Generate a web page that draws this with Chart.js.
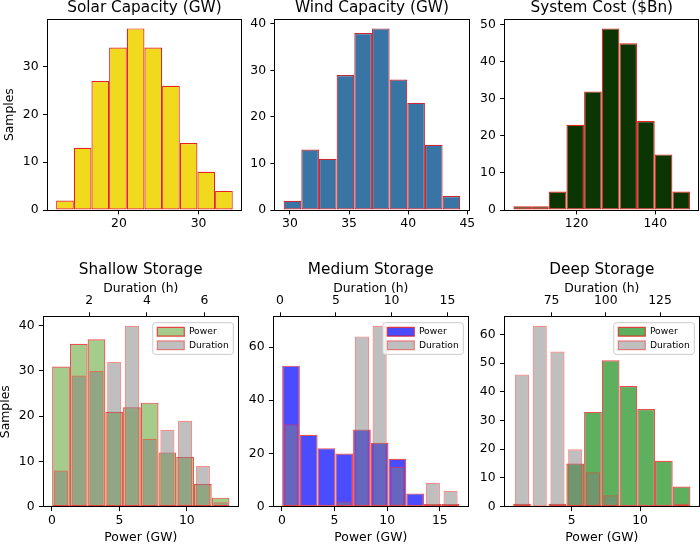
<!DOCTYPE html>
<html>
<head>
<meta charset="utf-8">
<script src="https://cdn.jsdelivr.net/npm/chart.js@4.4.1/dist/chart.umd.min.js"></script>
<style>
  html, body { margin: 0; padding: 0; background: #fff; }
  #fig { position: relative; width: 700px; height: 546px; }
  #fig canvas { position: absolute; left: 0; top: 0; }
</style>
</head>
<body>
<div id="fig">
  <canvas id="solar" width="700" height="546"></canvas>
  <canvas id="wind" width="700" height="546"></canvas>
  <canvas id="cost" width="700" height="546"></canvas>
  <canvas id="shallow" width="700" height="546"></canvas>
  <canvas id="medium" width="700" height="546"></canvas>
  <canvas id="deep" width="700" height="546"></canvas>
</div>
<script>
// histogram data: 10 bins each, [first edge, last edge] + counts
const solarRange = [12.1, 34.3];
const solarCounts = [2, 13, 27, 34, 38, 34, 26, 14, 8, 4];
const windRange = [29.47, 44.4];
const windCounts = [2, 13, 11, 29, 38, 39, 28, 23, 14, 3];
const costRange = [103.95, 148.85];
const costCounts = [1, 1, 5, 23, 32, 49, 45, 24, 15, 5];

const shallowPowerRange = [0.02, 13.16];
const shallowPowerCounts = [31, 36, 37, 21, 22, 23, 12, 11, 5, 2];
const shallowDurRange = [0.71, 6.87];
const shallowDurCounts = [8, 29, 30, 32, 40, 15, 17, 19, 9, 1];

const mediumPowerRange = [0.03, 16.86];
const mediumPowerCounts = [53, 27, 22, 20, 29, 24, 18, 5, 1, 1];
const mediumDurRange = [0.19, 16.08];
const mediumDurCounts = [31, 0, 0, 2, 64, 68, 15, 0, 9, 6];

const deepPowerRange = [0.72, 13.68];
const deepPowerCounts = [1, 0, 1, 15, 33, 51, 42, 34, 16, 7];
const deepDurRange = [57.3, 139.0];
const deepDurCounts = [46, 63, 54, 20, 12, 4, 0, 0, 0, 1];

// tick labels
const solarXTicks = [20, 30];
const solarYTicks = [0, 10, 20, 30];
const windXTicks = [30, 35, 40, 45];
const windYTicks = [0, 10, 20, 30, 40];
const costXTicks = [120, 140];
const costYTicks = [0, 10, 20, 30, 40, 50];
const shallowXTicks = [0, 5, 10];
const shallowTopTicks = [2, 4, 6];
const shallowYTicks = [0, 10, 20, 30, 40];
const mediumXTicks = [0, 5, 10, 15];
const mediumTopTicks = [0, 5, 10, 15];
const mediumYTicks = [0, 20, 40, 60];
const deepXTicks = [5, 10];
const deepTopTicks = [75, 100, 125];
const deepYTicks = [0, 10, 20, 30, 40, 50, 60];

const W = 700, H = 546;
const TICK_FS = 12.4;
const TITLE_FS = 15.3;
const LEG_FS = 9.2, LEG_BOX_W = 27, LEG_BOX_H = 8.7, LEG_PAD = 4.3;

Chart.defaults.font.family = '"DejaVu Sans", sans-serif';
Chart.defaults.font.size = TICK_FS;
Chart.defaults.color = '#000';

// histogram -> bar points at bin centres
function bins(range, counts) {
  const w = (range[1] - range[0]) / counts.length;
  return counts.map((c, i) => ({ x: range[0] + (i + 0.5) * w, y: c }));
}
// matplotlib style 5% margins
function withMargin(range) {
  const m = (range[1] - range[0]) * 0.05;
  return [range[0] - m, range[1] + m];
}

// legend frame + move the legend to the upper right corner of the plot area
const legendBox = {
  id: 'legendBox',
  afterInit(chart) {
    const lg = chart.legend;
    if (lg) lg._layers = () => [{ z: 2, draw: (ca) => lg.draw(ca) }];
  },
  afterLayout(chart) {
    const lg = chart.legend;
    if (!lg || !lg.options.display) return;
    const a = chart.chartArea, ctx = chart.ctx;
    ctx.save();
    ctx.font = LEG_FS + 'px "DejaVu Sans"';
    const tw = Math.max(...chart.data.datasets.map(d => ctx.measureText(d.label).width));
    ctx.restore();
    const inset = 4.5;
    const w = inset * 2 + LEG_BOX_W + LEG_FS / 2 + tw;
    const h = inset * 2 + LEG_FS * 2 + LEG_PAD;
    const fx = a.right - 5 - w, fy = a.top + 6;
    chart.$frame = { x: fx, y: fy, w: w, h: h };
    lg.left = fx + inset - LEG_PAD;
    lg.top = fy + inset - LEG_PAD;
    lg.right = a.right;
    lg.bottom = a.bottom;
    lg.width = lg.right - lg.left;
    lg.height = lg.bottom - lg.top;
  },
  afterDatasetsDraw(chart) {
    const f = chart.$frame;
    if (!f) return;
    const ctx = chart.ctx, r = 2.5;
    ctx.save();
    ctx.beginPath();
    ctx.moveTo(f.x + r, f.y);
    ctx.lineTo(f.x + f.w - r, f.y);
    ctx.arcTo(f.x + f.w, f.y, f.x + f.w, f.y + r, r);
    ctx.lineTo(f.x + f.w, f.y + f.h - r);
    ctx.arcTo(f.x + f.w, f.y + f.h, f.x + f.w - r, f.y + f.h, r);
    ctx.lineTo(f.x + r, f.y + f.h);
    ctx.arcTo(f.x, f.y + f.h, f.x, f.y + f.h - r, r);
    ctx.lineTo(f.x, f.y + r);
    ctx.arcTo(f.x, f.y, f.x + r, f.y, r);
    ctx.closePath();
    ctx.fillStyle = 'rgba(255,255,255,0.8)';
    ctx.fill();
    ctx.strokeStyle = '#cccccc';
    ctx.lineWidth = 1;
    ctx.stroke();
    ctx.restore();
  }
};

function tickGrid() {
  return { display: true, drawOnChartArea: false, drawTicks: true, offset: false,
           tickLength: 4.4, tickColor: '#000', tickWidth: 1 };
}
function spine() {
  return { display: true, color: '#000', width: 1, z: 1 };
}
function setTicks(vals) {
  return (s) => { s.ticks = vals.map(v => ({ value: v })); };
}

function makePanel(id, o) {
  const [l, t, r, b] = o.area;
  const topRow = o.row === 0;
  const yWidth = o.yTitle ? l : 34;
  const padTop = topRow ? 0 : 262;
  const titleLH = TITLE_FS;
  const titlePadBottom = topRow ? t - padTop - titleLH : 3;
  const topAxisH = topRow ? 0 : t - padTop - titleLH - titlePadBottom;
  const padBottom = topRow ? H - b - 30 : 0;
  const xAxisH = H - b - padBottom;

  const xr = withMargin(o.range);
  const allCounts = o.counts.concat(o.durCounts || []);
  const ymax = Math.max(...allCounts) * 1.05;

  const datasets = [];
  if (o.durCounts) {
    datasets.push({
      label: 'Duration',
      data: bins(o.durRange, o.durCounts),
      xAxisID: 'x2', yAxisID: 'y',
      backgroundColor: 'rgba(128,128,128,0.5)',
      borderColor: 'rgba(240,50,50,0.55)',
      borderWidth: 1.2,
      barPercentage: 0.8
    });
  }
  datasets.push({
    label: o.durCounts ? 'Power' : o.title,
    data: bins(o.range, o.counts),
    xAxisID: 'x', yAxisID: 'y',
    backgroundColor: o.fill,
    borderColor: o.edge,
    borderWidth: 1.2,
    barPercentage: 1
  });
  datasets.forEach(d => {
    d.categoryPercentage = 1;
    d.borderSkipped = false;
    d.inflateAmount = 0;
    d.grouped = false;
  });

  const scales = {
    y: {
      type: 'linear', position: 'left', min: 0, max: ymax,
      grid: tickGrid(), border: spine(),
      ticks: { padding: 4.35, autoSkip: false, callback: v => String(v) },
      afterBuildTicks: setTicks(o.yTicks),
      afterFit: (s) => { s.width = yWidth; },
      title: o.yTitle
        ? { display: true, text: o.yTitle, padding: { top: o.yTitlePad, bottom: 0 } }
        : { display: false }
    },
    x: {
      type: 'linear', position: 'bottom', min: xr[0], max: xr[1], offset: false,
      grid: tickGrid(), border: spine(),
      ticks: { padding: 2, autoSkip: false, maxRotation: 0, callback: v => String(v) },
      afterBuildTicks: setTicks(o.xTicks),
      afterFit: (s) => { s.height = xAxisH; },
      title: o.xTitle
        ? { display: true, text: o.xTitle, padding: { top: 0, bottom: 0.7 } }
        : { display: false }
    },
    yR: {
      type: 'linear', position: 'right', display: true,
      ticks: { display: false }, grid: { display: false }, border: spine(),
      afterFit: (s) => { s.width = 0; }
    }
  };
  if (o.durCounts) {
    const dr = withMargin(o.durRange);
    scales.x2 = {
      type: 'linear', position: 'top', min: dr[0], max: dr[1], offset: false,
      grid: tickGrid(), border: spine(),
      ticks: { padding: 4.16, autoSkip: false, maxRotation: 0, callback: v => String(v) },
      afterBuildTicks: setTicks(o.topTicks),
      afterFit: (s) => { s.height = topAxisH; },
      title: { display: true, text: 'Duration (h)', padding: { top: 0.86, bottom: 0 } }
    };
  } else {
    scales.xT = {
      type: 'linear', position: 'top', display: true,
      ticks: { display: false }, grid: { display: false }, border: spine(),
      afterFit: (s) => { s.height = 0; }
    };
  }

  return new Chart(document.getElementById(id), {
    type: 'bar',
    data: { datasets: datasets },
    options: {
      responsive: false,
      animation: false,
      events: [],
      layout: {
        autoPadding: false,
        padding: { left: l - yWidth, right: W - r, top: padTop, bottom: padBottom }
      },
      scales: scales,
      plugins: {
        tooltip: { enabled: false },
        title: {
          display: true, text: o.title, fullSize: false, color: '#000',
          font: { size: TITLE_FS, weight: 'normal', lineHeight: 1 },
          padding: { top: 0, bottom: titlePadBottom }
        },
        legend: {
          display: !!o.durCounts,
          position: 'chartArea',
          align: 'start',
          reverse: true,
          labels: {
            boxWidth: LEG_BOX_W, boxHeight: LEG_BOX_H, padding: LEG_PAD,
            color: '#000', font: { size: LEG_FS }
          }
        }
      }
    },
    plugins: [legendBox]
  });
}

makePanel('solar', {
  row: 0, area: [47.3, 19.3, 241.6, 210], title: 'Solar Capacity (GW)',
  range: solarRange, counts: solarCounts, xTicks: solarXTicks, yTicks: solarYTicks,
  yTitle: 'Samples', yTitlePad: 2,
  fill: '#f1da1e', edge: '#e3241b'
});
makePanel('wind', {
  row: 0, area: [274.8, 19.3, 469.1, 210], title: 'Wind Capacity (GW)',
  range: windRange, counts: windCounts, xTicks: windXTicks, yTicks: windYTicks,
  fill: '#3875a5', edge: '#c62a36'
});
makePanel('cost', {
  row: 0, area: [504.6, 19.3, 698.9, 210], title: 'System Cost ($Bn)',
  range: costRange, counts: costCounts, xTicks: costXTicks, yTicks: costYTicks,
  fill: '#0b3503', edge: '#e1251b'
});
makePanel('shallow', {
  row: 1, area: [43.3, 316.7, 238.3, 506.7], title: 'Shallow Storage',
  range: shallowPowerRange, counts: shallowPowerCounts,
  durRange: shallowDurRange, durCounts: shallowDurCounts,
  xTicks: shallowXTicks, topTicks: shallowTopTicks, yTicks: shallowYTicks,
  yTitle: 'Samples', yTitlePad: -1.9, xTitle: 'Power (GW)',
  fill: 'rgba(116,176,75,0.65)', edge: 'rgba(230,20,20,0.75)'
});
makePanel('medium', {
  row: 1, area: [273.3, 316.7, 468.3, 506.7], title: 'Medium Storage',
  range: mediumPowerRange, counts: mediumPowerCounts,
  durRange: mediumDurRange, durCounts: mediumDurCounts,
  xTicks: mediumXTicks, topTicks: mediumTopTicks, yTicks: mediumYTicks,
  xTitle: 'Power (GW)',
  fill: 'rgba(0,0,255,0.7)', edge: 'rgba(230,20,20,0.75)'
});
makePanel('deep', {
  row: 1, area: [504.3, 316.7, 699.3, 506.7], title: 'Deep Storage',
  range: deepPowerRange, counts: deepPowerCounts,
  durRange: deepDurRange, durCounts: deepDurCounts,
  xTicks: deepXTicks, topTicks: deepTopTicks, yTicks: deepYTicks,
  xTitle: 'Power (GW)',
  fill: 'rgba(0,128,0,0.63)', edge: 'rgba(230,20,20,0.75)'
});
</script>
</body>
</html>
